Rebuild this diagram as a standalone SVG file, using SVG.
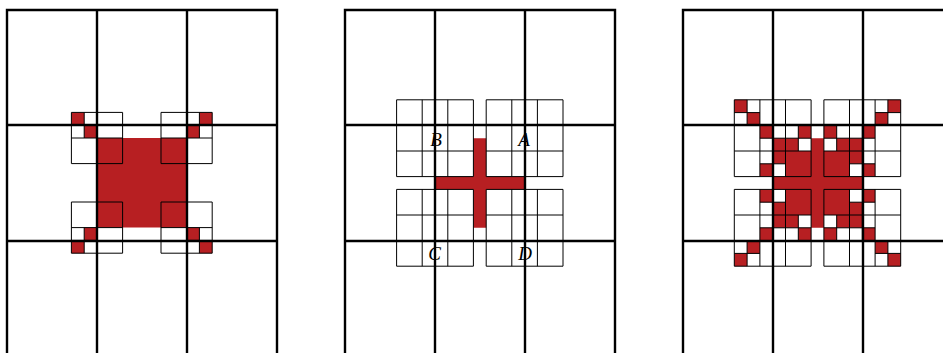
<svg xmlns="http://www.w3.org/2000/svg" width="943" height="353" viewBox="0 0 943 353">
<style>
.frame{fill:none;stroke:#000;stroke-width:2.4;stroke-linejoin:miter}
.grid{fill:none;stroke:#000;stroke-width:1}
.red{fill:#B71F22;stroke:none}
.lbl{font-family:"Liberation Serif","DejaVu Serif",serif;font-style:italic;font-size:19px;fill:#000;text-anchor:middle}
</style>
<rect width="943" height="353" fill="#fff"/>

<g id="panel1" transform="translate(7,0)">
  <g transform="translate(64.4,112.4) scale(12.8)">
    <path class="red" d="M2 2h7v7h-7z M0 0h1v1h-1z M1 1h1v1h-1z M10 0h1v1h-1z M9 1h1v1h-1z M0 10h1v1h-1z M1 9h1v1h-1z M9 9h1v1h-1z M10 10h1v1h-1z"/>
    <path class="grid" vector-effect="non-scaling-stroke" d="
      M0 0h4v4h-4z M2 0v4 M0 2h4 M1 0v2 M0 1h2
      M7 0h4v4h-4z M9 0v4 M7 2h4 M10 0v2 M9 1h2
      M0 7h4v4h-4z M2 7v4 M0 9h4 M1 9v2 M0 10h2
      M7 7h4v4h-4z M9 7v4 M7 9h4 M10 9v2 M9 10h2"/>
  </g>
  <path class="frame" d="M0 356V10H270V356 M90 10V356 M180 10V356 M0 125H270 M0 241H270"/>
</g>

<g id="panel2" transform="translate(345,0)">
  <g transform="translate(51.6,99.8) scale(12.8)">
    <path class="red" d="M6 3h1v7h-1z M3 6h7v1h-7z"/>
    <path class="grid" vector-effect="non-scaling-stroke" d="
      M0 0h6v6h-6z M2 0v6 M4 0v6 M0 2h6 M0 4h6
      M7 0h6v6h-6z M9 0v6 M11 0v6 M7 2h6 M7 4h6
      M0 7h6v6h-6z M2 7v6 M4 7v6 M0 9h6 M0 11h6
      M7 7h6v6h-6z M9 7v6 M11 7v6 M7 9h6 M7 11h6"/>
  </g>
  <path class="frame" d="M0 356V10H270V356 M90 10V356 M180 10V356 M0 125H270 M0 241H270"/>
  <g id="labels">
    <text class="lbl" x="91" y="145.5">B</text>
    <text class="lbl" x="179" y="145.5">A</text>
    <text class="lbl" x="89.5" y="260">C</text>
    <text class="lbl" x="180" y="260">D</text>
  </g>
</g>

<g id="panel3" transform="translate(683,0)">
  <g transform="translate(51.3,99.8) scale(12.8)">
    <path class="red" d="
      M0 0h1v1h-1z M12 0h1v1h-1z
      M1 1h1v1h-1z M11 1h1v1h-1z
      M2 2h1v1h-1z M5 2h1v1h-1z M7 2h1v1h-1z M10 2h1v1h-1z
      M3 3h2v1h-2z M6 3h1v1h-1z M8 3h2v1h-2z
      M3 4h7v1h-7z
      M2 5h1v1h-1z M4 5h5v1h-5z M10 5h1v1h-1z
      M3 6h7v1h-7z
      M2 7h1v1h-1z M4 7h5v1h-5z M10 7h1v1h-1z
      M3 8h7v1h-7z
      M3 9h2v1h-2z M6 9h1v1h-1z M8 9h2v1h-2z
      M2 10h1v1h-1z M5 10h1v1h-1z M7 10h1v1h-1z M10 10h1v1h-1z
      M1 11h1v1h-1z M11 11h1v1h-1z
      M0 12h1v1h-1z M12 12h1v1h-1z"/>
    <path class="grid" vector-effect="non-scaling-stroke" d="
      M0 0h6v6h-6z M2 0v6 M4 0v6 M0 2h6 M0 4h6
      M7 0h6v6h-6z M9 0v6 M11 0v6 M7 2h6 M7 4h6
      M0 7h6v6h-6z M2 7v6 M4 7v6 M0 9h6 M0 11h6
      M7 7h6v6h-6z M9 7v6 M11 7v6 M7 9h6 M7 11h6
      M1 0v2 M0 1h2  M3 2v2 M2 3h2  M5 2v2 M4 3h2  M3 4v2 M2 5h2
      M12 0v2 M11 1h2  M10 2v2 M9 3h2  M8 2v2 M7 3h2  M10 4v2 M9 5h2
      M1 11v2 M0 12h2  M3 9v2 M2 10h2  M5 9v2 M4 10h2  M3 7v2 M2 8h2
      M12 11v2 M11 12h2  M10 9v2 M9 10h2  M8 9v2 M7 10h2  M10 7v2 M9 8h2"/>
  </g>
  <path class="frame" d="M0 356V10H270V356 M90 10V356 M180 10V356 M0 125H270 M0 241H270"/>
</g>
</svg>
